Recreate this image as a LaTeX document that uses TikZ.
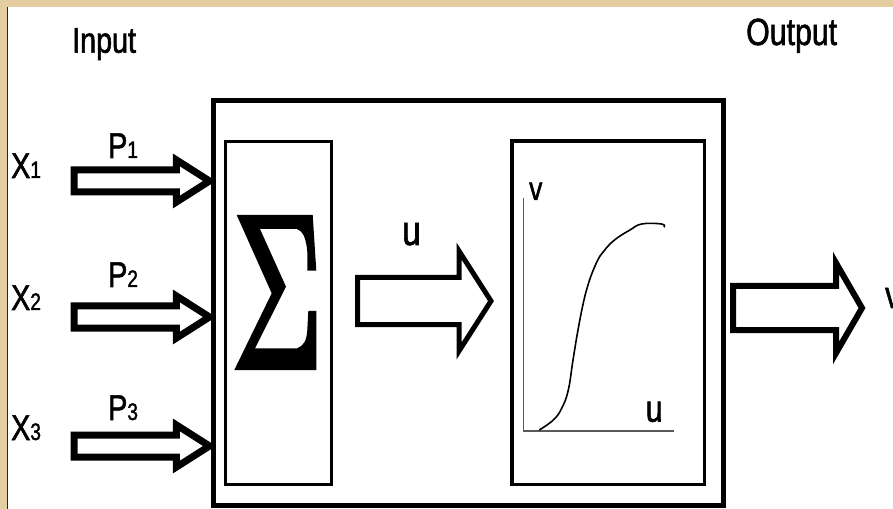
\documentclass[tikz,border=0pt]{standalone}
\usepackage{fontspec}
\setmainfont{Liberation Sans}[FakeStretch=0.8, FakeBold=1.5]
\usetikzlibrary{calc}
\definecolor{parchment}{RGB}{228,205,160}
\newcommand\idx[1]{{\fontsize{24}{24}\selectfont #1}}
\tikzset{
  lbl/.style={inner sep=0pt, anchor=base west, font=\fontsize{36}{36}\selectfont},
  box/.style={draw, rectangle, inner sep=0pt, fill=white},
  fat arrow/.style n args={3}{fill=white, draw=black, line join=miter, miter limit=20,
    to path={($(\tikztostart)+(0,#1)$) -- ($(\tikztotarget)+(-#3,#1)$) -- ($(\tikztotarget)+(-#3,#2)$) -- (\tikztotarget)
      -- ($(\tikztotarget)+(-#3,-#2)$) -- ($(\tikztotarget)+(-#3,-#1)$) -- ($(\tikztostart)+(0,-#1)$) -- cycle}}
}
\begin{document}
\begin{tikzpicture}[x=1bp, y=-1bp]
    \useasboundingbox (0,0) rectangle (893,509);
    % Page background
    \fill[parchment] (0,0) rectangle (893,509);
    \fill[white] (7.5,7) rectangle (893,509);
    \draw[line width=1.5bp, black!85] (7.5,7) -- (7.5,509);
    
    % Neuron body with summing and activation parts
    \node[box, line width=5bp, outer sep=4bp, minimum width=509.5bp, minimum height=405bp] (neuron) at (468.25,303) {};
    \node[box, line width=3.5bp, minimum width=106.4bp, minimum height=343bp] (sumbox) at (278.5,312.8) {};
    \node[box, line width=3.5bp, minimum width=192.7bp, minimum height=343.7bp] (actbox) at (608.35,312.85) {};
    
    % Sigma sign
    \fill (236.7,215) -- (312.7,215) -- (316.3,270.7) -- (307.3,270.7) -- (307.3,252)
        .. controls (306,236) and (302,231) .. (297,229) -- (260,229) -- (286,286.7) -- (255,348.3) -- (297,348.3)
        .. controls (303,346) and (306.5,342) .. (307.3,330) -- (308.3,311) -- (316.3,311) -- (316.3,370)
        -- (234.3,370) -- (271.7,293.3) -- cycle;
    
    % Titles
    \node[lbl] (input) at (72,52.7) {Input};
    \node[lbl, font=\fontsize{38}{38}\selectfont] (output) at (746,45) {Output};
    
    % Inputs and weights
    \node[lbl] (x1) at (11,178) {X\idx{1}};
    \node[lbl] (x2) at (11,310) {X\idx{2}};
    \node[lbl] (x3) at (11,440) {X\idx{3}};
    \node[lbl] (p1) at (108,158) {P\idx{1}};
    \node[lbl] (p2) at (108,287) {P\idx{2}};
    \node[lbl] (p3) at (108,420) {P\idx{3}};
    \foreach \i/\y in {1/181, 2/317, 3/446} {
        \coordinate (in\i) at (74,\y);
        \coordinate (tip\i) at (in\i -| neuron.west);
        \draw[fat arrow={11}{21}{33}, line width=7bp] (in\i) to (tip\i);
    }
    
    % Sum to activation
    \coordinate (utail) at (357.5,301);
    \coordinate (utip) at (491,301);
    \draw[fat arrow={23.5}{50}{32}, line width=5bp] (utail) to (utip);
    \node[lbl, font=\fontsize{42}{42}\selectfont] (ulabel) at (402,245) {u};
    
    % Activation curve
    \coordinate (origin) at (523.3,431);
    \draw[line width=1.3bp, black!65] (523.3,198) -- (origin) -- (674,431);
    \draw[line width=1.6bp] plot[smooth, tension=0.7] coordinates {(539.3,430) (553.3,420) (561.7,408.3) (568.3,390)
        (573,360) (578,330) (583.3,303) (588,285) (593.3,270) (600,256) (606.7,247.5)
        (616.7,238.3) (630,230) (641.7,224) (661.7,224) (664,227.3)};
    \node[lbl, font=\fontsize{33}{33}\selectfont] (vaxis) at (529,200) {v};
    \node[lbl, font=\fontsize{38}{38}\selectfont] (uaxis) at (645.5,421.7) {u};
    
    % Output
    \coordinate (vtail) at (733,308);
    \coordinate (vtip) at (862,308);
    \draw[fat arrow={22}{45}{26}, line width=6bp] (vtail) to (vtip);
    \node[lbl, font=\fontsize{38}{38}\selectfont] (vout) at (885,308) {v};
\end{tikzpicture}
\end{document}
